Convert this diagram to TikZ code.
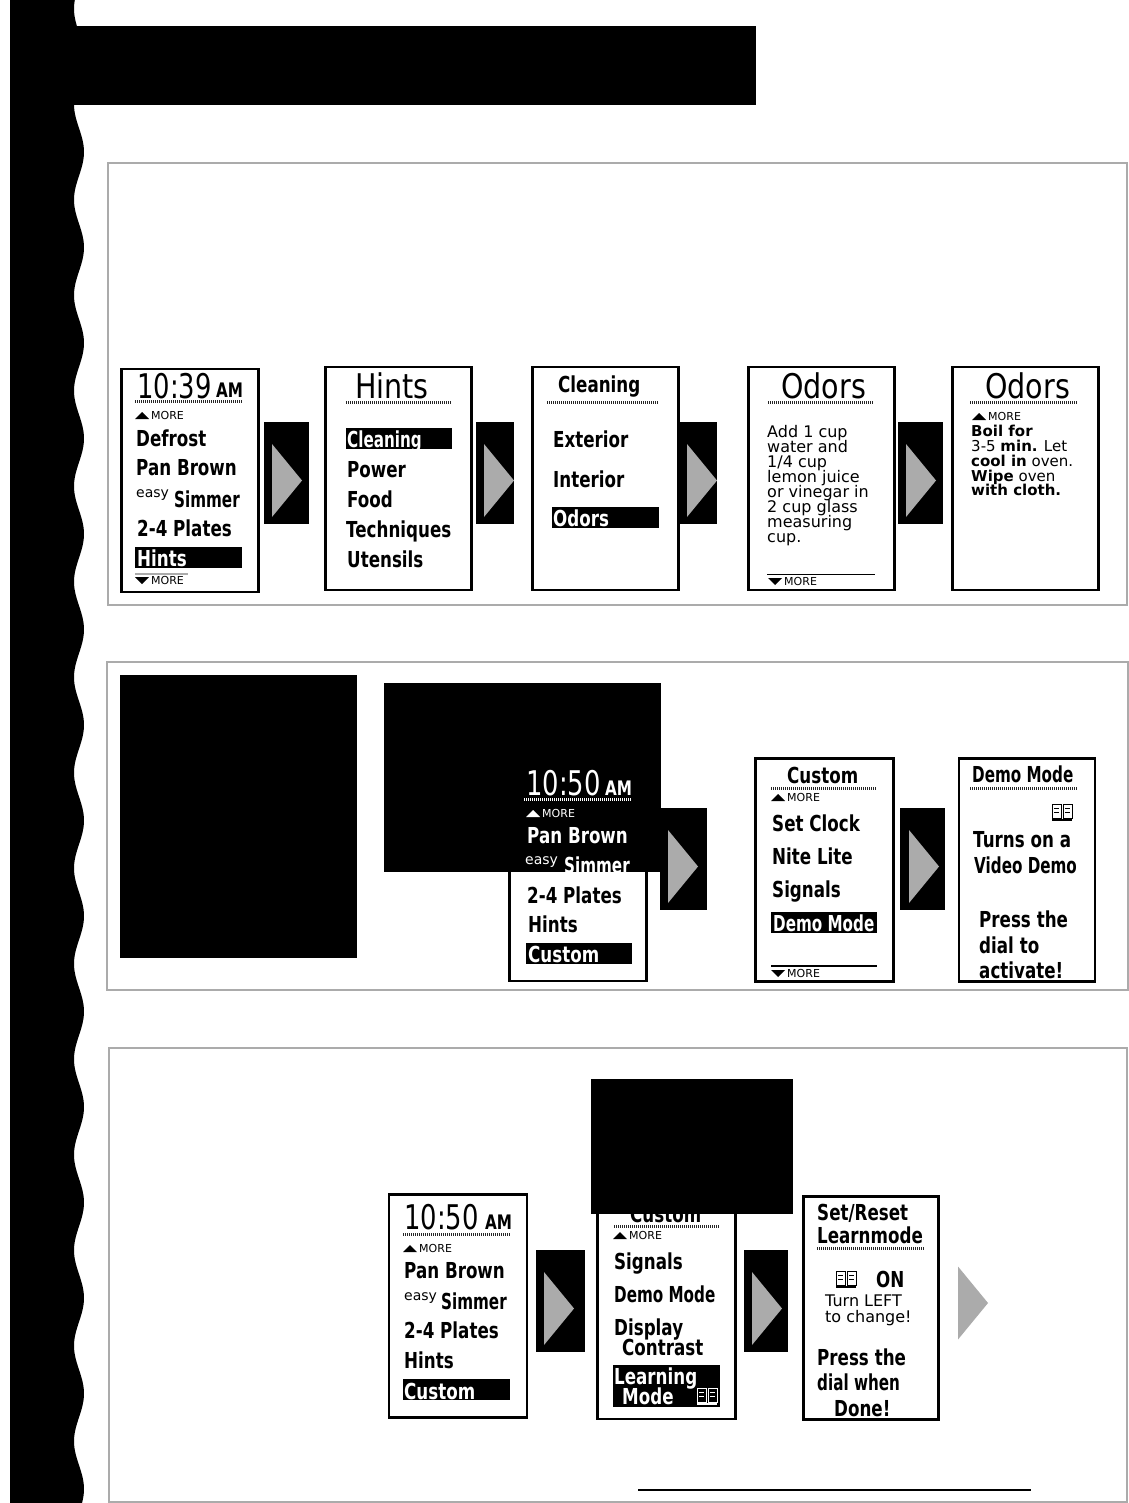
\documentclass[tikz,border=0pt]{standalone}
\usepackage{fontspec}
\usetikzlibrary{shapes.geometric}
\newfontfamily\lcdfont{DejaVu Sans}[FakeStretch=0.76]
\newfontfamily\lcdnarrow{DejaVu Sans}[FakeStretch=0.69]
\newfontfamily\lcdwide{DejaVu Sans}[FakeStretch=0.84]
\newfontfamily\lcdsmall{DejaVu Sans}
\definecolor{panelgray}{HTML}{ABABAB}
\tikzstyle{panel} = [
    rectangle,
    draw=panelgray,
    line width=2pt,
    inner sep=0pt,
    outer sep=0pt,
    anchor=north west
]
\tikzstyle{screen} = [
    rectangle,
    draw=black,
    fill=white,
    line width=2.2pt,
    minimum height=223pt,
    inner sep=0pt,
    outer sep=0pt,
    anchor=north west
]
\tikzstyle{patch} = [
    rectangle,
    fill=black,
    inner sep=0pt,
    outer sep=0pt,
    anchor=north west
]
\tikzstyle{arrowblock} = [
    rectangle,
    fill=black,
    minimum height=102pt,
    inner sep=0pt,
    outer sep=0pt,
    anchor=north west
]
\tikzstyle{pointer} = [
    isosceles triangle,
    isosceles triangle stretches,
    fill=panelgray,
    minimum height=30pt,
    minimum width=73pt,
    inner sep=0pt,
    outer sep=0pt,
    anchor=apex
]
\tikzstyle{bar} = [
    rectangle,
    fill=black,
    minimum height=21pt,
    minimum width=106pt,
    inner sep=0pt,
    outer sep=0pt,
    anchor=north west
]
\tikzstyle{menuitem} = [
    anchor=base west,
    inner sep=0pt,
    font=\lcdfont\bfseries\fontsize{22}{22}\selectfont
]
\tikzstyle{selitem} = [menuitem, text=white]
\tikzstyle{narrowitem} = [menuitem, font=\lcdnarrow\bfseries\fontsize{22}{22}\selectfont]
\tikzstyle{bigtitle} = [
    anchor=base west,
    inner sep=0pt,
    font=\lcdwide\fontsize{34}{34}\selectfont
]
\tikzstyle{bigclock} = [bigtitle, font=\lcdfont\fontsize{34}{34}\selectfont]
\tikzstyle{ampm} = [
    anchor=base west,
    inner sep=0pt,
    font=\lcdfont\bfseries\fontsize{20}{20}\selectfont
]
\tikzstyle{bodytext} = [
    anchor=base west,
    inner sep=0pt,
    font=\lcdsmall\fontsize{16}{16}\selectfont
]
\tikzstyle{smalltext} = [bodytext, font=\lcdsmall\fontsize{15}{15}\selectfont]
\tikzstyle{moretext} = [
    anchor=base west,
    inner sep=0pt,
    font=\lcdsmall\fontsize{11}{11}\selectfont
]
\tikzstyle{easytext} = [moretext, font=\lcdsmall\fontsize{14}{14}\selectfont]
\tikzstyle{dotrule} = [
    line width=3pt,
    dash pattern=on 1pt off 1pt,
    black!85
]
\tikzset{
    bookicon/.pic={
        \draw [pic actions, line width=1pt] (0,0) rectangle (9,14);
        \draw [pic actions, line width=1pt] (11,0) rectangle (20,14);
        \draw [pic actions, line width=1pt] (2,4) -- (7,4) (2,8) -- (7,8) (13,4) -- (18,4) (13,8) -- (18,8);
        \draw [pic actions, line width=1.5pt] (0,16) -- (20,16);
    }
}
\newcommand{\moreup}[4][black]{
    \fill [#1] (#3,#4) -- ++(14,0) -- ++(-7,-7) -- cycle;
    \node (#2) [moretext, text=#1] at ({#3+16},#4) {MORE};
}
\newcommand{\moredown}[4][black]{
    \fill [#1] (#3,{#4-7}) -- ++(14,0) -- ++(-7,7) -- cycle;
    \node (#2) [moretext, text=#1] at ({#3+16},#4) {MORE};
}
\begin{document}
\begin{tikzpicture}[x=1pt, y=-1pt]

\useasboundingbox (0,0) rectangle (1128,1503);
\fill [white] (0,0) rectangle (1128,1503);

\fill [black] (10,0) -- plot [domain=0:1503, samples=300, smooth] ({79+5*cos((\x-152)/95.5*360)},\x) -- (10,1503) -- cycle;

\node (banner) [patch, minimum width=690pt, minimum height=79pt] at (66,26) {};

\node (panelA) [panel, minimum width=1019pt, minimum height=442pt] at (108,163) {};

\node (panelB) [panel, minimum width=1021pt, minimum height=328pt] at (107,662) {};

\node (panelC) [panel, minimum width=1018pt, minimum height=454pt] at (109,1048) {};

\node (clockA) [screen, minimum width=137pt] at (121.5,369) {};

\node (hints) [screen, minimum width=146pt] at (325.5,367) {};

\node (cleaning) [screen, minimum width=146pt] at (532.5,367) {};

\node (odorsA) [screen, minimum width=146pt] at (748.5,367) {};

\node (odorsB) [screen, minimum width=146pt] at (952.5,367) {};

\node (clockB) [screen, minimum width=137pt] at (509.5,758) {};

\node (customA) [screen, minimum width=138pt] at (755.5,758.5) {};

\node (demo) [screen, minimum width=136pt] at (959,758.5) {};

\node (clockC) [screen, minimum width=138pt] at (389,1194.5) {};

\node (customB) [screen, minimum width=138pt] at (597.5,1196) {};

\node (reset) [screen, minimum width=135pt] at (803.5,1196.5) {};

\node (arrowA) [arrowblock, minimum width=45pt] at (264,422) {};
\node (pointerA) [pointer] at (302,480.5) {};

\node (arrowB) [arrowblock, minimum width=38pt] at (476,422) {};
\node (pointerB) [pointer] at (514,480.5) {};

\node (arrowC) [arrowblock, minimum width=39pt] at (678,422) {};
\node (pointerC) [pointer] at (717,480.5) {};

\node (arrowD) [arrowblock, minimum width=45pt] at (898,422) {};
\node (pointerD) [pointer] at (936,480.5) {};

\node (arrowE) [arrowblock, minimum width=47pt] at (660,808) {};
\node (pointerE) [pointer] at (698,866.5) {};

\node (arrowF) [arrowblock, minimum width=45pt] at (900,808) {};
\node (pointerF) [pointer] at (939,866.5) {};

\node (arrowG) [arrowblock, minimum width=49pt] at (536,1250) {};
\node (pointerG) [pointer] at (574,1308.5) {};

\node (arrowH) [arrowblock, minimum width=44pt] at (744,1250) {};
\node (pointerH) [pointer] at (782,1308.5) {};

\node (pointerI) [pointer] at (988,1303) {};

\node (timeA) [bigclock] at (137,398) {10:39};
\node (ampmA) [ampm] at (216,397) {AM};
\draw [dotrule] (135,401) -- (242,401);
\moreup{moreA}{135}{419}
\node (defrost) [menuitem] at (136,446) {Defrost};
\node (panA) [menuitem] at (136,475) {Pan Brown};
\node (easyA) [easytext] at (136,497) {easy};
\node (simmerA) [narrowitem] at (174,507) {Simmer};
\node (platesA) [menuitem] at (137,536) {2-4 Plates};
\node (barA) [bar, minimum width=107pt] at (135,547) {};
\node (hintsA) [selitem] at (137,566) {Hints};
\draw [panelgray, line width=1.5pt] (135,574) -- (188,574);
\moredown{moreB}{135}{584}

\node (hintsT) [bigtitle] at (355,398) {Hints};
\draw [dotrule] (346,402) -- (451,402);
\node (barB) [bar] at (346,428) {};
\node (cleanI) [selitem, font=\lcdnarrow\bfseries\fontsize{22}{22}\selectfont] at (347,447) {Cleaning};
\node (power) [menuitem] at (347,477) {Power};
\node (food) [menuitem] at (347,507) {Food};
\node (tech) [menuitem] at (346,537) {Techniques};
\node (utensils) [menuitem] at (347,567) {Utensils};

\node (cleanT) [menuitem] at (558,392) {Cleaning};
\draw [dotrule] (547,402) -- (658,402);
\node (exterior) [menuitem] at (553,447) {Exterior};
\node (interior) [menuitem] at (553,487) {Interior};
\node (barC) [bar, minimum width=107pt] at (552,507) {};
\node (odorsI) [selitem] at (553,526) {Odors};

\node (odorsT) [bigtitle] at (781,398) {Odors};
\draw [dotrule] (768,402) -- (873,402);
\node (lineA) [bodytext] at (767,437) {Add 1 cup};
\node (lineB) [bodytext] at (767,452) {water and};
\node (lineC) [bodytext] at (767,467) {1/4 cup};
\node (lineD) [bodytext] at (767,482) {lemon juice};
\node (lineE) [bodytext] at (767,497) {or vinegar in};
\node (lineF) [bodytext] at (767,512) {2 cup glass};
\node (lineG) [bodytext] at (767,527) {measuring};
\node (lineH) [bodytext] at (767,542) {cup.};
\draw [line width=1.2pt] (767,574.5) -- (875,574.5);
\moredown{moreC}{768}{585}

\node (odorsU) [bigtitle] at (985,398) {Odors};
\draw [dotrule] (970,402) -- (1078,402);
\moreup{moreD}{972}{420}
\node (lineI) [smalltext, font=\lcdsmall\bfseries\fontsize{15}{15}\selectfont] at (971,436) {Boil for};
\node (lineJ) [smalltext] at (971,451) {3-5 \textbf{min.} Let};
\node (lineK) [smalltext] at (971,466) {\textbf{cool in} oven.};
\node (lineL) [smalltext] at (971,481) {\textbf{Wipe} oven};
\node (lineM) [smalltext, font=\lcdsmall\bfseries\fontsize{15}{15}\selectfont] at (971,495) {with cloth.};

\node (plates) [menuitem] at (527,903) {2-4 Plates};
\node (hintsB) [menuitem] at (528,932) {Hints};
\node (barD) [bar] at (526,943) {};
\node (customC) [selitem] at (528,962) {Custom};

\node (customT) [menuitem] at (787,783) {Custom};
\draw [dotrule] (771,788) -- (876,788);
\moreup{moreE}{771}{801}
\node (clock) [menuitem] at (772,831) {Set Clock};
\node (nite) [menuitem] at (772,864) {Nite Lite};
\node (signalsA) [menuitem] at (772,897) {Signals};
\node (barE) [bar] at (771,912) {};
\node (demoI) [narrowitem, text=white] at (773,931) {Demo Mode};
\draw [line width=1.2pt] (771,966) -- (877,966);
\moredown{moreF}{771}{977}

\node (demoT) [narrowitem] at (972,782) {Demo Mode};
\draw [dotrule] (970,788) -- (1078,788);
\pic (bookA) [draw=black] at (1052,804) {bookicon};
\node (turns) [menuitem] at (973,847) {Turns on a};
\node (video) [narrowitem] at (974,873) {Video Demo};
\node (press) [menuitem] at (979,927) {Press the};
\node (dial) [menuitem] at (979,953) {dial to};
\node (activate) [menuitem] at (979,978) {activate!};

\node (timeC) [bigclock] at (404,1229) {10:50};
\node (ampmC) [ampm] at (485,1229) {AM};
\draw [dotrule] (403,1234) -- (510,1234);
\moreup{moreG}{403}{1252}
\node (panC) [menuitem] at (404,1278) {Pan Brown};
\node (easyC) [easytext] at (404,1300) {easy};
\node (simmerC) [narrowitem] at (441,1309) {Simmer};
\node (platesC) [menuitem] at (404,1338) {2-4 Plates};
\node (hintsC) [menuitem] at (404,1368) {Hints};
\node (barF) [bar, minimum width=107pt] at (403,1379) {};
\node (customD) [selitem] at (404,1399) {Custom};

\node (customU) [menuitem] at (630,1222) {Custom};
\draw [dotrule] (614,1226) -- (720,1226);
\moreup{moreH}{613}{1239}
\node (signalsB) [menuitem] at (614,1269) {Signals};
\node (demoB) [narrowitem] at (614,1302) {Demo Mode};
\node (display) [menuitem] at (614,1335) {Display};
\node (contrast) [menuitem] at (622,1355) {Contrast};
\node (barG) [bar, minimum width=107pt, minimum height=42pt] at (613,1365) {};
\node (learning) [selitem] at (614,1384) {Learning};
\node (modeB) [selitem] at (622,1404) {Mode};
\pic (bookB) [draw=white] at (697,1388) {bookicon};

\node (setreset) [menuitem] at (817,1220) {Set/Reset};
\node (learnmode) [menuitem] at (817,1243) {Learnmode};
\draw [dotrule] (817,1248) -- (925,1248);
\pic (bookC) [draw=black] at (836,1271) {bookicon};
\node (onstate) [menuitem] at (876,1287) {ON};
\node (turnleft) [bodytext] at (825,1306) {Turn LEFT};
\node (change) [bodytext] at (825,1322) {to change!};
\node (pressB) [menuitem] at (817,1365) {Press the};
\node (dialB) [narrowitem] at (817,1390) {dial when};
\node (done) [menuitem] at (834,1416) {Done!};

\node (blankA) [patch, minimum width=237pt, minimum height=283pt] at (120,675) {};

\node (blankB) [patch, minimum width=277pt, minimum height=189pt] at (384,683) {};

\node (blankC) [patch, minimum width=202pt, minimum height=135pt] at (591,1079) {};

\node (timeB) [bigclock, text=white] at (526,795) {10:50};
\node (ampmB) [ampm, text=white] at (605,795) {AM};
\draw [dotrule, white] (524,799) -- (632,799);
\moreup[white]{moreI}{526}{817}
\node (panB) [selitem] at (527,843) {Pan Brown};
\node (easyB) [easytext, text=white] at (525,864) {easy};
\node (simmerB) [narrowitem, text=white] at (564,873) {Simmer};

\draw [line width=1.2pt] (638,1490) -- (1031,1490);

\end{tikzpicture}
\end{document}
